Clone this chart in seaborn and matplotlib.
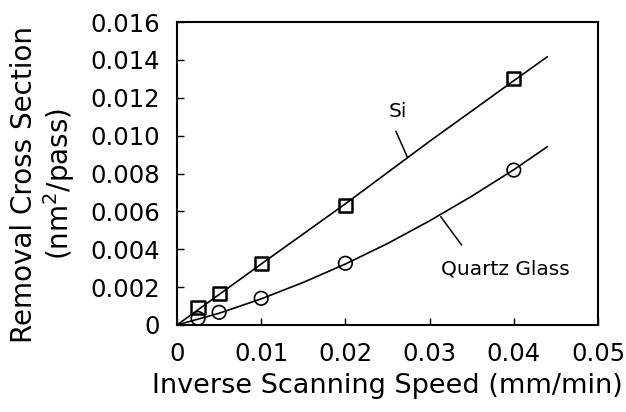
import matplotlib
matplotlib.use("Agg")
import matplotlib.pyplot as plt
import seaborn as sns
import pandas as pd

# Measured points
x_pts = [0.0025, 0.005, 0.01, 0.02, 0.04]
si_pts = [0.00093, 0.00167, 0.00326, 0.0063, 0.0130]
qg_pts = [0.00035, 0.00067, 0.00141, 0.00326, 0.00818]

# Fitted curves
si_curve_x = [0.0, 0.01, 0.02, 0.03, 0.04, 0.044]
si_curve_y = [0.0, 0.00322, 0.0064, 0.0097, 0.0129, 0.01417]
qg_curve_x = [0.0, 0.005, 0.01, 0.015, 0.02, 0.025, 0.03, 0.035, 0.04, 0.044]
qg_curve_y = [0.0, 0.00062, 0.00138, 0.00225, 0.00322, 0.0043, 0.0055, 0.0068, 0.0082, 0.00942]

x_ticks = [0, 0.01, 0.02, 0.03, 0.04, 0.05]
x_tick_labels = ["0", "0.01", "0.02", "0.03", "0.04", "0.05"]
y_ticks = [0, 0.002, 0.004, 0.006, 0.008, 0.010, 0.012, 0.014, 0.016]
y_tick_labels = ["0", "0.002", "0.004", "0.006", "0.008", "0.010", "0.012", "0.014", "0.016"]

sns.set_style("ticks")
plt.rcParams["font.family"] = ["DejaVu Sans"]
plt.rcParams["text.color"] = "black"
plt.rcParams["axes.labelcolor"] = "black"

fig = plt.figure(figsize=(6.26, 4.12), dpi=100)
ax = fig.add_axes([177/626, 1-325/412, (598-177)/626, (325-22)/412])

sns.lineplot(x=si_curve_x, y=si_curve_y, ax=ax, color="black", lw=1.2, sort=True)
sns.lineplot(x=qg_curve_x, y=qg_curve_y, ax=ax, color="black", lw=1.2, sort=True)
ax.scatter(x_pts, si_pts, marker="s", s=90, facecolors="none", edgecolors="black", linewidths=1.8, zorder=3)
ax.scatter(x_pts, qg_pts, marker="o", s=95, facecolors="none", edgecolors="black", linewidths=1.2, zorder=3)

ax.set_xlim(0, 0.05)
ax.set_ylim(0, 0.016)
ax.set_xticks(x_ticks)
ax.set_xticklabels(x_tick_labels)
ax.set_yticks(y_ticks)
ax.set_yticklabels(y_tick_labels)
ax.tick_params(direction="in", length=5, width=1, labelsize=17.5, colors="black")
ax.tick_params(axis="y", pad=12)
ax.tick_params(axis="x", pad=12)
for s in ax.spines.values():
    s.set_linewidth(1.5)
    s.set_color("black")

ax.set_xlabel("Inverse Scanning Speed (mm/min)", fontsize=19.5, labelpad=5)
ax.set_ylabel("Removal Cross Section\n(nm$^2$/pass)", fontsize=20, linespacing=1.1)
ax.yaxis.set_label_coords(-0.238, 0.465)

# annotations
ax.text(0.0262, 0.0113, "Si", fontsize=14.5, ha="center", va="center")
ax.plot([0.0260, 0.02735], [0.01023, 0.00887], color="black", lw=1.1)
ax.text(0.0390, 0.00295, "Quartz Glass", fontsize=14.5, ha="center", va="center")
ax.plot([0.03132, 0.03381], [0.00572, 0.00422], color="black", lw=1.1)

fig.savefig("out.png", dpi=100)
